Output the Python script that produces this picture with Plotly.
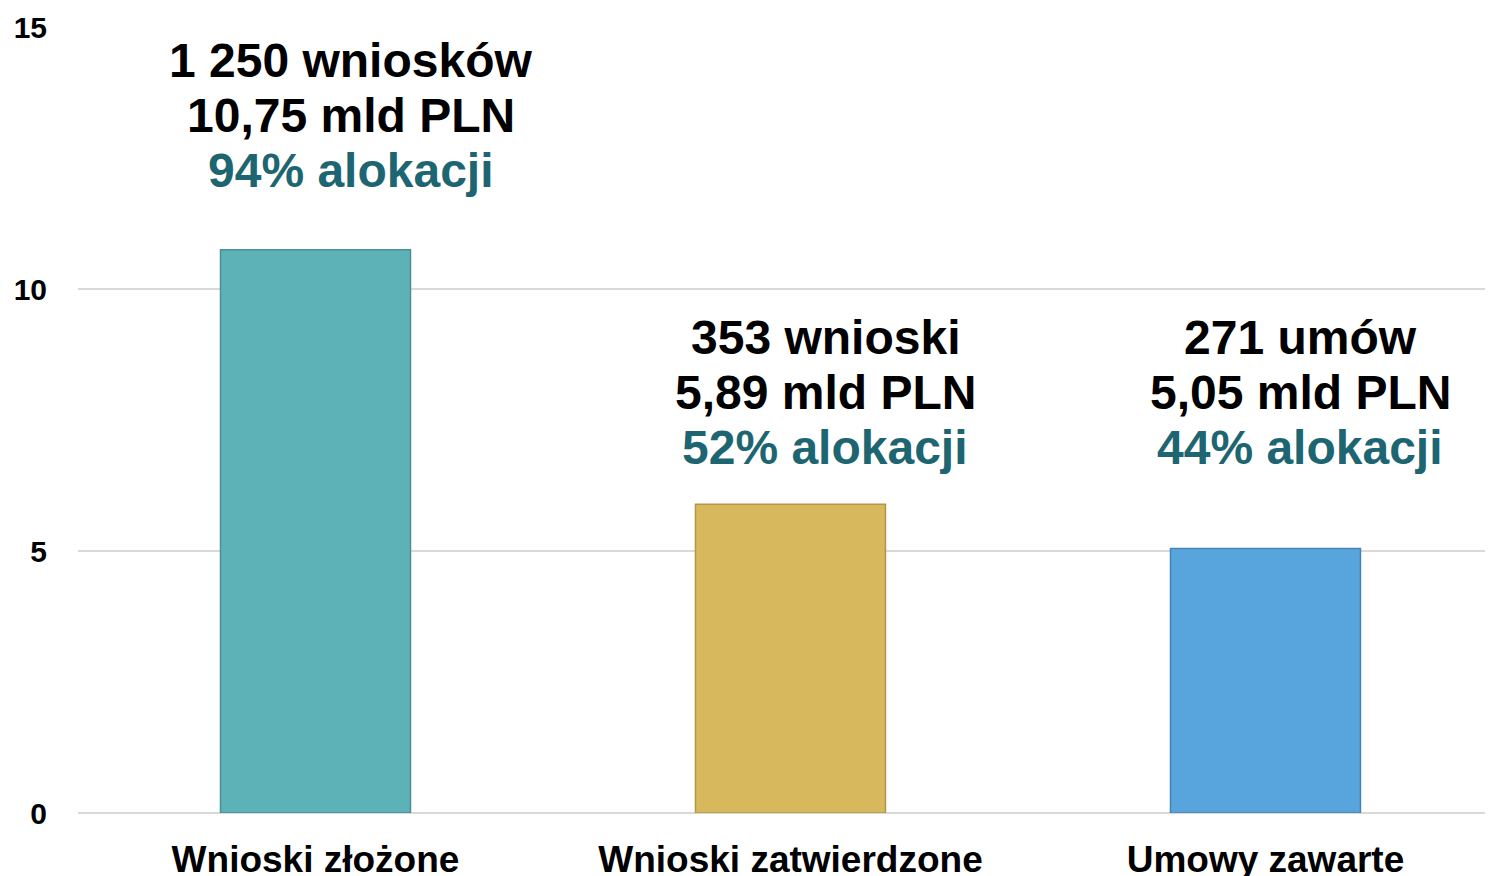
import plotly.graph_objects as go

categories = ["Wnioski złożone", "Wnioski zatwierdzone", "Umowy zawarte"]
values = [10.75, 5.89, 5.05]
count_labels = ["1 250 wniosków", "353 wnioski", "271 umów"]
amount_labels = ["10,75 mld PLN", "5,89 mld PLN", "5,05 mld PLN"]
pct_labels = ["94% alokacji", "52% alokacji", "44% alokacji"]
colors = ["#5DB2B8", "#D8B85C", "#58A4DC"]
edge_colors = ["#4A8F94", "#B39645", "#4784B3"]

# vertical placement of the three label lines (axis units) for each bar
label_line_y = [
    [14.37, 13.32, 12.27],
    [9.08, 8.03, 6.98],
    [9.08, 8.03, 6.98],
]

FONT = "Liberation Sans, Arial, sans-serif"

fig = go.Figure()
fig.add_trace(go.Bar(
    x=categories,
    y=values,
    width=0.4,
    marker=dict(color=colors, line=dict(color=edge_colors, width=1.5)),
    showlegend=False,
    hoverinfo="skip",
))

annotations = []
for i, cat in enumerate(categories):
    texts = [count_labels[i], amount_labels[i], pct_labels[i]]
    tcolors = ["#000000", "#000000", "#1E6572"]
    for j in range(3):
        annotations.append(dict(
            x=cat, y=label_line_y[i][j], xref="x", yref="y",
            text="<b>%s</b>" % texts[j], showarrow=False,
            xanchor="center", yanchor="middle", xshift=35,
            font=dict(family=FONT, size=48, color=tcolors[j]),
        ))

fig.update_layout(
    width=1485, height=868,
    margin=dict(l=70, r=0, t=19, b=63),
    paper_bgcolor="white", plot_bgcolor="white",
    bargap=0.6,
    annotations=annotations,
    xaxis=dict(
        range=[-0.5, 2.479], automargin=False,
        showgrid=False, zeroline=False, showline=False,
        ticks="", ticklabelstandoff=21,
        tickfont=dict(family=FONT, size=37, color="#000000", weight="bold"),
    ),
    yaxis=dict(
        range=[0, 15], tickvals=[0, 5, 10, 15], automargin=False,
        showgrid=True, gridcolor="#D9D9D9", gridwidth=2,
        zeroline=True, zerolinecolor="#D9D9D9", zerolinewidth=2,
        showline=False, ticks="", ticklabelstandoff=30,
        tickfont=dict(family=FONT, size=30, color="#000000", weight="bold"),
    ),
)

fig.write_html("out.html")
